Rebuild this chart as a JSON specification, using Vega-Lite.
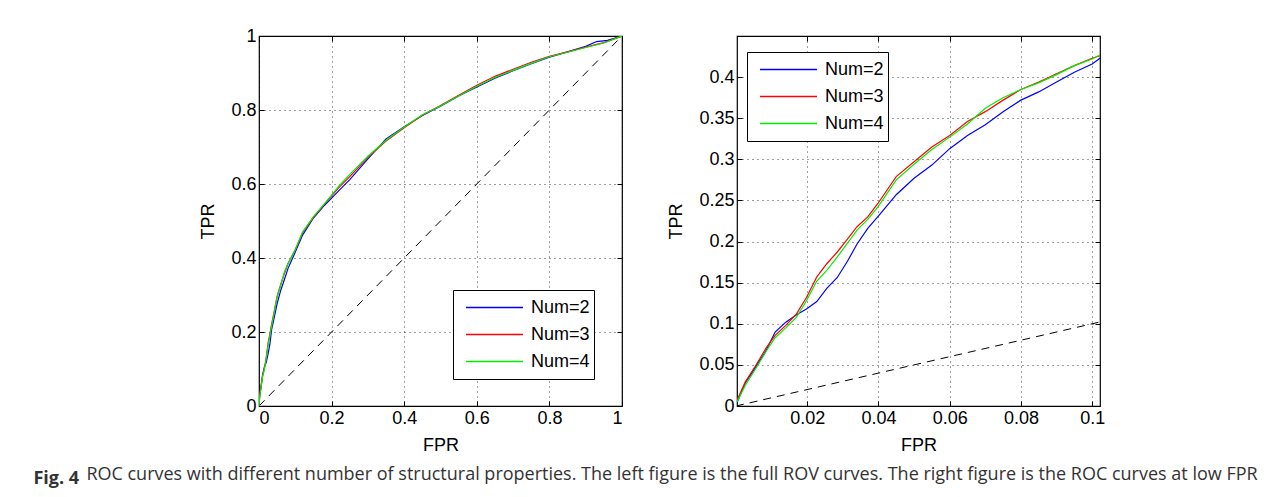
{
  "$schema": "https://vega.github.io/schema/vega-lite/v6.json",
  "padding": {"left": 33, "top": 26, "right": 5, "bottom": 5},
  "background": "white",
  "datasets": {
    "diagL": [{"fpr": 0, "tpr": 0}, {"fpr": 1, "tpr": 1}],
    "diagR": [{"fpr": 0, "tpr": 0}, {"fpr": 0.1022, "tpr": 0.1022}],
    "left": [
      {"series": "Num=2", "fpr": 0, "tpr": 0},
      {"series": "Num=2", "fpr": 0.002, "tpr": 0.028},
      {"series": "Num=2", "fpr": 0.005, "tpr": 0.047},
      {"series": "Num=2", "fpr": 0.01, "tpr": 0.085},
      {"series": "Num=2", "fpr": 0.015, "tpr": 0.106},
      {"series": "Num=2", "fpr": 0.02, "tpr": 0.118},
      {"series": "Num=2", "fpr": 0.025, "tpr": 0.141},
      {"series": "Num=2", "fpr": 0.03, "tpr": 0.167},
      {"series": "Num=2", "fpr": 0.035, "tpr": 0.208},
      {"series": "Num=2", "fpr": 0.04, "tpr": 0.23},
      {"series": "Num=2", "fpr": 0.05, "tpr": 0.277},
      {"series": "Num=2", "fpr": 0.06, "tpr": 0.313},
      {"series": "Num=2", "fpr": 0.07, "tpr": 0.342},
      {"series": "Num=2", "fpr": 0.08, "tpr": 0.372},
      {"series": "Num=2", "fpr": 0.09, "tpr": 0.394},
      {"series": "Num=2", "fpr": 0.1, "tpr": 0.416},
      {"series": "Num=2", "fpr": 0.12, "tpr": 0.462},
      {"series": "Num=2", "fpr": 0.15, "tpr": 0.508},
      {"series": "Num=2", "fpr": 0.18, "tpr": 0.542},
      {"series": "Num=2", "fpr": 0.2, "tpr": 0.562},
      {"series": "Num=2", "fpr": 0.22, "tpr": 0.582},
      {"series": "Num=2", "fpr": 0.25, "tpr": 0.612},
      {"series": "Num=2", "fpr": 0.3, "tpr": 0.668},
      {"series": "Num=2", "fpr": 0.35, "tpr": 0.722},
      {"series": "Num=2", "fpr": 0.4, "tpr": 0.755},
      {"series": "Num=2", "fpr": 0.45, "tpr": 0.785},
      {"series": "Num=2", "fpr": 0.5, "tpr": 0.81},
      {"series": "Num=2", "fpr": 0.55, "tpr": 0.838},
      {"series": "Num=2", "fpr": 0.6, "tpr": 0.862},
      {"series": "Num=2", "fpr": 0.65, "tpr": 0.886},
      {"series": "Num=2", "fpr": 0.7, "tpr": 0.906},
      {"series": "Num=2", "fpr": 0.75, "tpr": 0.925},
      {"series": "Num=2", "fpr": 0.8, "tpr": 0.943},
      {"series": "Num=2", "fpr": 0.85, "tpr": 0.957},
      {"series": "Num=2", "fpr": 0.9, "tpr": 0.972},
      {"series": "Num=2", "fpr": 0.93, "tpr": 0.985},
      {"series": "Num=2", "fpr": 0.96, "tpr": 0.988},
      {"series": "Num=2", "fpr": 1, "tpr": 1},
      {"series": "Num=3", "fpr": 0, "tpr": 0},
      {"series": "Num=3", "fpr": 0.002, "tpr": 0.03},
      {"series": "Num=3", "fpr": 0.005, "tpr": 0.05},
      {"series": "Num=3", "fpr": 0.01, "tpr": 0.082},
      {"series": "Num=3", "fpr": 0.015, "tpr": 0.102},
      {"series": "Num=3", "fpr": 0.02, "tpr": 0.132},
      {"series": "Num=3", "fpr": 0.025, "tpr": 0.17},
      {"series": "Num=3", "fpr": 0.03, "tpr": 0.195},
      {"series": "Num=3", "fpr": 0.035, "tpr": 0.222},
      {"series": "Num=3", "fpr": 0.04, "tpr": 0.246},
      {"series": "Num=3", "fpr": 0.05, "tpr": 0.297},
      {"series": "Num=3", "fpr": 0.06, "tpr": 0.329},
      {"series": "Num=3", "fpr": 0.07, "tpr": 0.358},
      {"series": "Num=3", "fpr": 0.08, "tpr": 0.385},
      {"series": "Num=3", "fpr": 0.09, "tpr": 0.404},
      {"series": "Num=3", "fpr": 0.1, "tpr": 0.423},
      {"series": "Num=3", "fpr": 0.12, "tpr": 0.468},
      {"series": "Num=3", "fpr": 0.15, "tpr": 0.51},
      {"series": "Num=3", "fpr": 0.18, "tpr": 0.545},
      {"series": "Num=3", "fpr": 0.2, "tpr": 0.568},
      {"series": "Num=3", "fpr": 0.22, "tpr": 0.59},
      {"series": "Num=3", "fpr": 0.25, "tpr": 0.62},
      {"series": "Num=3", "fpr": 0.3, "tpr": 0.672},
      {"series": "Num=3", "fpr": 0.35, "tpr": 0.716},
      {"series": "Num=3", "fpr": 0.4, "tpr": 0.752},
      {"series": "Num=3", "fpr": 0.45, "tpr": 0.786},
      {"series": "Num=3", "fpr": 0.5, "tpr": 0.812},
      {"series": "Num=3", "fpr": 0.55, "tpr": 0.84},
      {"series": "Num=3", "fpr": 0.6, "tpr": 0.867},
      {"series": "Num=3", "fpr": 0.65, "tpr": 0.891},
      {"series": "Num=3", "fpr": 0.7, "tpr": 0.91},
      {"series": "Num=3", "fpr": 0.75, "tpr": 0.929},
      {"series": "Num=3", "fpr": 0.8, "tpr": 0.945},
      {"series": "Num=3", "fpr": 0.85, "tpr": 0.957},
      {"series": "Num=3", "fpr": 0.9, "tpr": 0.97},
      {"series": "Num=3", "fpr": 0.95, "tpr": 0.982},
      {"series": "Num=3", "fpr": 1, "tpr": 1},
      {"series": "Num=4", "fpr": 0, "tpr": 0},
      {"series": "Num=4", "fpr": 0.002, "tpr": 0.026},
      {"series": "Num=4", "fpr": 0.005, "tpr": 0.046},
      {"series": "Num=4", "fpr": 0.01, "tpr": 0.08},
      {"series": "Num=4", "fpr": 0.015, "tpr": 0.1},
      {"series": "Num=4", "fpr": 0.02, "tpr": 0.128},
      {"series": "Num=4", "fpr": 0.025, "tpr": 0.164},
      {"series": "Num=4", "fpr": 0.03, "tpr": 0.19},
      {"series": "Num=4", "fpr": 0.035, "tpr": 0.218},
      {"series": "Num=4", "fpr": 0.04, "tpr": 0.243},
      {"series": "Num=4", "fpr": 0.05, "tpr": 0.294},
      {"series": "Num=4", "fpr": 0.06, "tpr": 0.327},
      {"series": "Num=4", "fpr": 0.07, "tpr": 0.362},
      {"series": "Num=4", "fpr": 0.08, "tpr": 0.385},
      {"series": "Num=4", "fpr": 0.09, "tpr": 0.403},
      {"series": "Num=4", "fpr": 0.1, "tpr": 0.422},
      {"series": "Num=4", "fpr": 0.12, "tpr": 0.47},
      {"series": "Num=4", "fpr": 0.15, "tpr": 0.512},
      {"series": "Num=4", "fpr": 0.18, "tpr": 0.546},
      {"series": "Num=4", "fpr": 0.2, "tpr": 0.57},
      {"series": "Num=4", "fpr": 0.22, "tpr": 0.594},
      {"series": "Num=4", "fpr": 0.25, "tpr": 0.626},
      {"series": "Num=4", "fpr": 0.3, "tpr": 0.675},
      {"series": "Num=4", "fpr": 0.35, "tpr": 0.718},
      {"series": "Num=4", "fpr": 0.4, "tpr": 0.754},
      {"series": "Num=4", "fpr": 0.45, "tpr": 0.787},
      {"series": "Num=4", "fpr": 0.5, "tpr": 0.811},
      {"series": "Num=4", "fpr": 0.55, "tpr": 0.838},
      {"series": "Num=4", "fpr": 0.6, "tpr": 0.864},
      {"series": "Num=4", "fpr": 0.65, "tpr": 0.888},
      {"series": "Num=4", "fpr": 0.7, "tpr": 0.907},
      {"series": "Num=4", "fpr": 0.75, "tpr": 0.926},
      {"series": "Num=4", "fpr": 0.8, "tpr": 0.944},
      {"series": "Num=4", "fpr": 0.85, "tpr": 0.956},
      {"series": "Num=4", "fpr": 0.9, "tpr": 0.969},
      {"series": "Num=4", "fpr": 0.95, "tpr": 0.981},
      {"series": "Num=4", "fpr": 1, "tpr": 1}
    ],
    "right": [
      {"series": "Num=2", "fpr": 0.0003, "tpr": 0.004},
      {"series": "Num=2", "fpr": 0.0026, "tpr": 0.028},
      {"series": "Num=2", "fpr": 0.0055, "tpr": 0.047},
      {"series": "Num=2", "fpr": 0.0084, "tpr": 0.067},
      {"series": "Num=2", "fpr": 0.011, "tpr": 0.09},
      {"series": "Num=2", "fpr": 0.014, "tpr": 0.102},
      {"series": "Num=2", "fpr": 0.017, "tpr": 0.111},
      {"series": "Num=2", "fpr": 0.0198, "tpr": 0.118},
      {"series": "Num=2", "fpr": 0.0227, "tpr": 0.127},
      {"series": "Num=2", "fpr": 0.0255, "tpr": 0.143},
      {"series": "Num=2", "fpr": 0.0284, "tpr": 0.156},
      {"series": "Num=2", "fpr": 0.0313, "tpr": 0.176},
      {"series": "Num=2", "fpr": 0.034, "tpr": 0.197},
      {"series": "Num=2", "fpr": 0.037, "tpr": 0.216},
      {"series": "Num=2", "fpr": 0.0398, "tpr": 0.23},
      {"series": "Num=2", "fpr": 0.045, "tpr": 0.257},
      {"series": "Num=2", "fpr": 0.05, "tpr": 0.277},
      {"series": "Num=2", "fpr": 0.055, "tpr": 0.293},
      {"series": "Num=2", "fpr": 0.06, "tpr": 0.313},
      {"series": "Num=2", "fpr": 0.065, "tpr": 0.329},
      {"series": "Num=2", "fpr": 0.07, "tpr": 0.342},
      {"series": "Num=2", "fpr": 0.075, "tpr": 0.358},
      {"series": "Num=2", "fpr": 0.08, "tpr": 0.372},
      {"series": "Num=2", "fpr": 0.085, "tpr": 0.382},
      {"series": "Num=2", "fpr": 0.09, "tpr": 0.394},
      {"series": "Num=2", "fpr": 0.095, "tpr": 0.406},
      {"series": "Num=2", "fpr": 0.1, "tpr": 0.416},
      {"series": "Num=2", "fpr": 0.1022, "tpr": 0.423},
      {"series": "Num=3", "fpr": 0.0003, "tpr": 0.007},
      {"series": "Num=3", "fpr": 0.0026, "tpr": 0.029},
      {"series": "Num=3", "fpr": 0.0055, "tpr": 0.049},
      {"series": "Num=3", "fpr": 0.0084, "tpr": 0.07},
      {"series": "Num=3", "fpr": 0.011, "tpr": 0.086},
      {"series": "Num=3", "fpr": 0.014, "tpr": 0.098},
      {"series": "Num=3", "fpr": 0.017, "tpr": 0.112},
      {"series": "Num=3", "fpr": 0.0198, "tpr": 0.132},
      {"series": "Num=3", "fpr": 0.0227, "tpr": 0.157},
      {"series": "Num=3", "fpr": 0.0255, "tpr": 0.173},
      {"series": "Num=3", "fpr": 0.0284, "tpr": 0.187},
      {"series": "Num=3", "fpr": 0.0313, "tpr": 0.203},
      {"series": "Num=3", "fpr": 0.034, "tpr": 0.218},
      {"series": "Num=3", "fpr": 0.037, "tpr": 0.23},
      {"series": "Num=3", "fpr": 0.0398, "tpr": 0.246},
      {"series": "Num=3", "fpr": 0.045, "tpr": 0.279},
      {"series": "Num=3", "fpr": 0.05, "tpr": 0.297},
      {"series": "Num=3", "fpr": 0.055, "tpr": 0.315},
      {"series": "Num=3", "fpr": 0.06, "tpr": 0.329},
      {"series": "Num=3", "fpr": 0.065, "tpr": 0.346},
      {"series": "Num=3", "fpr": 0.07, "tpr": 0.358},
      {"series": "Num=3", "fpr": 0.075, "tpr": 0.372},
      {"series": "Num=3", "fpr": 0.08, "tpr": 0.385},
      {"series": "Num=3", "fpr": 0.085, "tpr": 0.394},
      {"series": "Num=3", "fpr": 0.09, "tpr": 0.404},
      {"series": "Num=3", "fpr": 0.095, "tpr": 0.414},
      {"series": "Num=3", "fpr": 0.1, "tpr": 0.423},
      {"series": "Num=3", "fpr": 0.1022, "tpr": 0.426},
      {"series": "Num=4", "fpr": 0.0003, "tpr": 0.005},
      {"series": "Num=4", "fpr": 0.0026, "tpr": 0.025},
      {"series": "Num=4", "fpr": 0.0055, "tpr": 0.045},
      {"series": "Num=4", "fpr": 0.0084, "tpr": 0.066},
      {"series": "Num=4", "fpr": 0.011, "tpr": 0.083},
      {"series": "Num=4", "fpr": 0.014, "tpr": 0.095},
      {"series": "Num=4", "fpr": 0.017, "tpr": 0.108},
      {"series": "Num=4", "fpr": 0.0198, "tpr": 0.128},
      {"series": "Num=4", "fpr": 0.0227, "tpr": 0.152},
      {"series": "Num=4", "fpr": 0.0255, "tpr": 0.165},
      {"series": "Num=4", "fpr": 0.0284, "tpr": 0.181},
      {"series": "Num=4", "fpr": 0.0313, "tpr": 0.198},
      {"series": "Num=4", "fpr": 0.034, "tpr": 0.214},
      {"series": "Num=4", "fpr": 0.037, "tpr": 0.227},
      {"series": "Num=4", "fpr": 0.0398, "tpr": 0.242},
      {"series": "Num=4", "fpr": 0.045, "tpr": 0.275},
      {"series": "Num=4", "fpr": 0.05, "tpr": 0.294},
      {"series": "Num=4", "fpr": 0.055, "tpr": 0.312},
      {"series": "Num=4", "fpr": 0.06, "tpr": 0.327},
      {"series": "Num=4", "fpr": 0.065, "tpr": 0.343},
      {"series": "Num=4", "fpr": 0.07, "tpr": 0.362},
      {"series": "Num=4", "fpr": 0.075, "tpr": 0.375},
      {"series": "Num=4", "fpr": 0.08, "tpr": 0.385},
      {"series": "Num=4", "fpr": 0.085, "tpr": 0.393},
      {"series": "Num=4", "fpr": 0.09, "tpr": 0.403},
      {"series": "Num=4", "fpr": 0.095, "tpr": 0.414},
      {"series": "Num=4", "fpr": 0.1, "tpr": 0.422},
      {"series": "Num=4", "fpr": 0.1022, "tpr": 0.427}
    ]
  },
  "title": {
    "text": "ROC curves with different number of structural properties. The left figure is the full ROV curves. The right figure is the ROC curves at low FPR",
    "orient": "bottom", "anchor": "start", "dx": 53, "offset": -22,
    "font": "Open Sans", "fontSize": 18, "fontWeight": "normal", "color": "#333333"
  },
  "vconcat": [
    {
      "title": {
        "text": "Fig. 4", "orient": "bottom", "anchor": "start", "dx": -166, "offset": 15,
        "font": "Open Sans", "fontSize": 18, "fontWeight": "bold", "color": "#333333"
      },
      "spacing": 42,
      "resolve": {"scale": {"x": "independent", "y": "independent", "color": "independent"}, "legend": {"color": "independent"}},
      "hconcat": [
        {
          "width": 363, "height": 370,
          "resolve": {"axis": {"x": "independent", "y": "independent"}},
          "layer": [
            {
              "data": {"name": "diagL"},
              "mark": {"type": "line", "color": "#000000", "strokeWidth": 1, "strokeDash": [8, 6]},
              "encoding": {
                "x": {"field": "fpr", "type": "quantitative", "scale": {"domain": [0, 1], "nice": false}, "axis": {"values": [0, 0.2, 0.4, 0.6, 0.8, 1], "format": "~g", "title": "FPR"}},
                "y": {"field": "tpr", "type": "quantitative", "scale": {"domain": [0, 1], "nice": false}, "axis": {"values": [0, 0.2, 0.4, 0.6, 0.8, 1], "format": "~g", "title": "TPR"}}
              }
            },
            {
              "data": {"name": "left"},
              "mark": {"type": "line", "strokeWidth": 1.2, "clip": true},
              "encoding": {
                "x": {"field": "fpr", "type": "quantitative", "axis": {"orient": "top", "values": [0, 0.2, 0.4, 0.6, 0.8, 1], "labels": false, "title": null, "grid": false}},
                "y": {"field": "tpr", "type": "quantitative", "axis": {"orient": "right", "values": [0, 0.2, 0.4, 0.6, 0.8, 1], "labels": false, "title": null, "grid": false}},
                "color": {
                  "field": "series", "type": "nominal",
                  "scale": {"domain": ["Num=2", "Num=3", "Num=4"], "range": ["#0000ff", "#ff0000", "#00ee00"]},
                  "legend": {"orient": "none", "legendX": 194, "legendY": 254}
                }
              }
            }
          ]
        },
        {
          "width": 363, "height": 370,
          "resolve": {"axis": {"x": "independent", "y": "independent"}},
          "layer": [
            {
              "data": {"name": "diagR"},
              "mark": {"type": "line", "color": "#000000", "strokeWidth": 1, "strokeDash": [8, 6], "clip": true},
              "encoding": {
                "x": {"field": "fpr", "type": "quantitative", "scale": {"domain": [0.0003, 0.1022], "nice": false, "zero": false}, "axis": {"values": [0.02, 0.04, 0.06, 0.08, 0.1], "format": "~g", "title": "FPR"}},
                "y": {"field": "tpr", "type": "quantitative", "scale": {"domain": [0, 0.45], "nice": false}, "axis": {"values": [0, 0.05, 0.1, 0.15, 0.2, 0.25, 0.3, 0.35, 0.4], "format": "~g", "title": "TPR"}}
              }
            },
            {
              "data": {"name": "right"},
              "mark": {"type": "line", "strokeWidth": 1.2, "clip": true},
              "encoding": {
                "x": {"field": "fpr", "type": "quantitative", "axis": {"orient": "top", "values": [0.02, 0.04, 0.06, 0.08, 0.1], "labels": false, "title": null, "grid": false}},
                "y": {"field": "tpr", "type": "quantitative", "axis": {"orient": "right", "values": [0, 0.05, 0.1, 0.15, 0.2, 0.25, 0.3, 0.35, 0.4], "labels": false, "title": null, "grid": false}},
                "color": {
                  "field": "series", "type": "nominal",
                  "scale": {"domain": ["Num=2", "Num=3", "Num=4"], "range": ["#0000ff", "#ff0000", "#00ee00"]},
                  "legend": {"orient": "none", "legendX": 10, "legendY": 16}
                }
              }
            }
          ]
        }
      ]
    }
  ],
  "config": {
    "view": {"stroke": "#000000", "strokeWidth": 1.2},
    "axis": {
      "labelFont": "Liberation Sans", "labelFontSize": 18, "labelColor": "#000000",
      "titleFont": "Liberation Sans", "titleFontSize": 18, "titleFontWeight": "normal", "titleColor": "#000000",
      "grid": true, "gridDash": [1, 4], "gridColor": "#000000", "gridOpacity": 0.75, "gridWidth": 1,
      "domain": false, "ticks": true, "tickSize": -5, "tickColor": "#000000", "labelPadding": 8
    },
    "axisX": {"titlePadding": 9},
    "axisY": {"titlePadding": 13},
    "legend": {
      "title": null, "symbolType": "stroke", "symbolSize": 3249, "symbolStrokeWidth": 1.5,
      "labelFont": "Liberation Sans", "labelFontSize": 18, "labelColor": "#000000", "labelOffset": 7,
      "padding": 4, "symbolOffset": 8, "rowPadding": 0, "clipHeight": 27,
      "strokeColor": "#000000", "fillColor": "#ffffff"
    }
  }
}
